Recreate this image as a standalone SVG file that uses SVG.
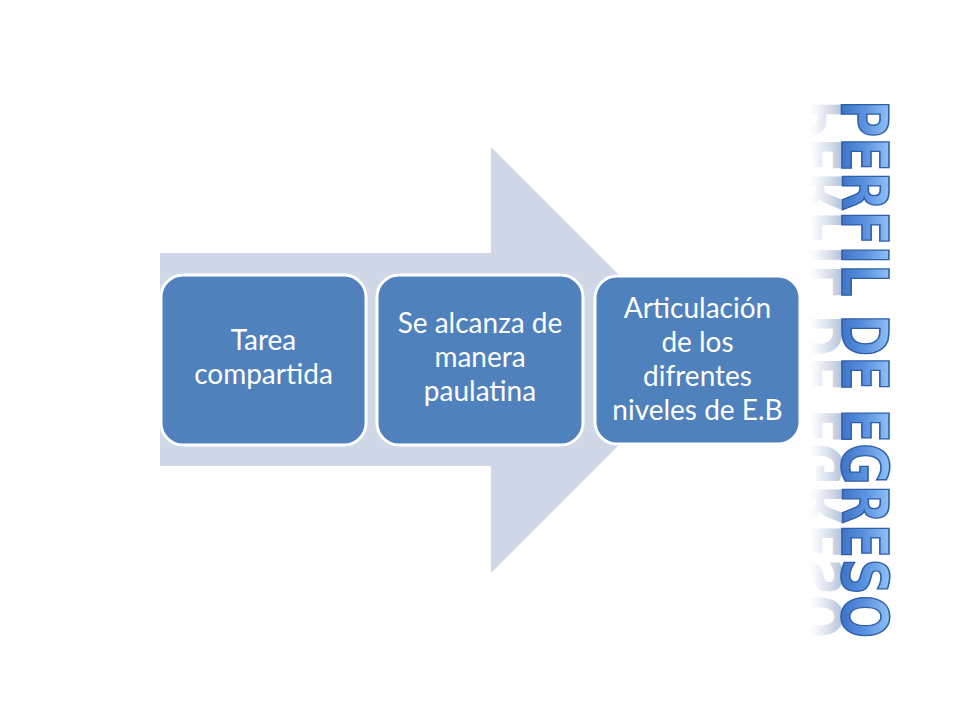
<svg xmlns="http://www.w3.org/2000/svg" width="960" height="720" viewBox="0 0 960 720">
<defs>
<style>
.box{fill:#4f81bd;stroke:#ffffff;stroke-width:3}
.lbl{font-family:Lato,"Open Sans","Liberation Sans",sans-serif;font-size:28px;fill:#ffffff;text-anchor:middle}
.title{font-family:"DejaVu Sans",sans-serif;font-weight:bold;font-size:64px}
</style>
<linearGradient id="tg" gradientUnits="userSpaceOnUse" x1="0" y1="0" x2="0" y2="-47">
<stop offset="0" stop-color="#3f74c8"/>
<stop offset="0.5" stop-color="#5b93e0"/>
<stop offset="1" stop-color="#8fc0f5"/>
</linearGradient>
<linearGradient id="rg" gradientUnits="userSpaceOnUse" x1="0" y1="0" x2="0" y2="-47">
<stop offset="0" stop-color="#9fb0d0" stop-opacity="0.8"/>
<stop offset="0.45" stop-color="#c0cce0" stop-opacity="0.35"/>
<stop offset="0.8" stop-color="#ffffff" stop-opacity="0"/>
</linearGradient>
</defs>
<rect width="960" height="720" fill="#ffffff"/>
<g id="arrow">
<polygon points="160,253 491,253 491,147 704,360 491,573 491,466 160,466" fill="#d0d8e8"/>
</g>
<g id="node1">
<rect class="box" x="161" y="275" width="205" height="170" rx="22"/>
<text class="lbl" x="263.5" y="350">Tarea</text>
<text class="lbl" x="263.5" y="384">compartida</text>
</g>
<g id="node2">
<rect class="box" x="377" y="275" width="206" height="170" rx="22"/>
<text class="lbl" x="480" y="333">Se alcanza de</text>
<text class="lbl" x="480" y="367">manera</text>
<text class="lbl" x="480" y="401">paulatina</text>
</g>
<g id="node3">
<rect class="box" x="595" y="276" width="205" height="168" rx="22"/>
<text class="lbl" x="697.5" y="318">Articulación</text>
<text class="lbl" x="697.5" y="352">de los</text>
<text class="lbl" x="697.5" y="386">difrentes</text>
<text class="lbl" x="697.5" y="420">niveles de E.B</text>
</g>
<g id="title">
<text class="title" transform="translate(842,100) rotate(90) scale(1,-1)" fill="url(#rg)" textLength="538" lengthAdjust="spacingAndGlyphs">PERFIL DE EGRESO</text>
<text class="title" transform="translate(842,100) rotate(90)" fill="url(#tg)" stroke="#2f5fa8" stroke-width="1.6" textLength="538" lengthAdjust="spacingAndGlyphs">PERFIL DE EGRESO</text>
</g>
</svg>
